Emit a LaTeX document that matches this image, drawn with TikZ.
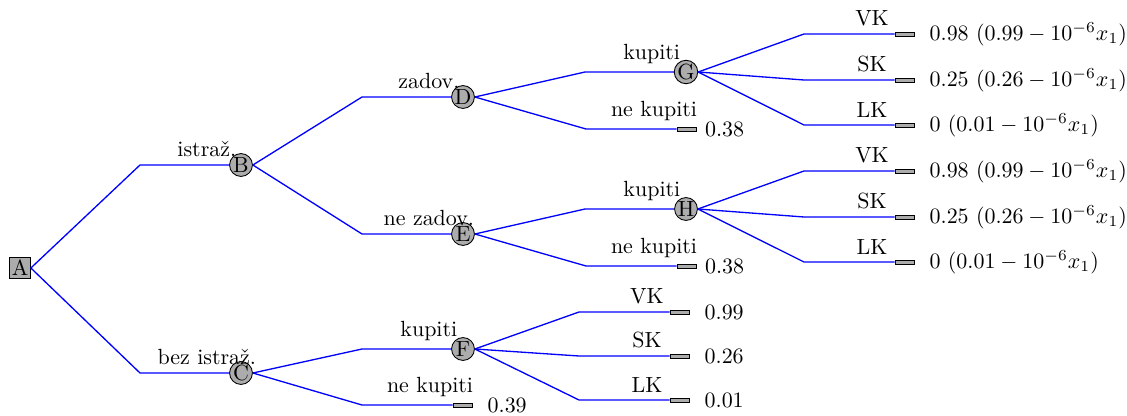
\documentclass[tikz,border=0pt]{standalone}
\usepackage{amsmath}
\usepackage{tikz}
\usetikzlibrary{calc,positioning}

\begin{document}
\begin{tikzpicture}[
  x = 0.016cm, y = -0.016cm,
  node distance = 3pt,
  dec/.style = {rectangle, draw, fill=gray!65, inner sep=0.5pt,
                minimum size=9.5pt},
  chance/.style = {circle, draw, fill=gray!65, inner sep=0pt,
                   minimum size=10.4pt},
  leaf/.style = {rectangle, draw, fill=gray!65, inner sep=0pt,
                 minimum width=9pt, minimum height=1.8pt},
  branch/.style = {blue, line width=0.6pt},
  lab/.style = {above, pos=0.75, text=black}
]
\useasboundingbox (0,0) rectangle (1127,415);

% decision and chance nodes
\node[dec] (A) at (20,268) {A};
\node[chance] (B) at (241,165) {B};
\node[chance] (C) at (241,373) {C};
\node[chance] (D) at (463,97) {D};
\node[chance] (E) at (463,234) {E};
\node[chance] (F) at (463,349) {F};
\node[chance] (G) at (686,72) {G};
\node[chance] (H) at (686,209) {H};

% end points
\node[leaf] (tD) at (687,129) {};
\node[leaf] (tE) at (687,266) {};
\node[leaf] (tC) at (463,405) {};
\node[leaf] (tG1) at (905,34) {};
\node[leaf] (tG2) at (905,80) {};
\node[leaf] (tG3) at (905,125) {};
\node[leaf] (tH1) at (905,171) {};
\node[leaf] (tH2) at (905,217) {};
\node[leaf] (tH3) at (905,262) {};
\node[leaf] (tF1) at (680,312) {};
\node[leaf] (tF2) at (680,356) {};
\node[leaf] (tF3) at (680,400) {};

% payoffs
\node[right=0pt of tD] (pD) {0.38};
\node[right=0pt of tE] (pE) {0.38};
\node[right=3pt of tC] (pC) {0.39};
\node[right=3pt of tG1] (pG1) {0.98 $(0.99-10^{-6}x_1)$};
\node[right=3pt of tG2] (pG2) {0.25 $(0.26-10^{-6}x_1)$};
\node[right=3pt of tG3] (pG3) {0 $(0.01-10^{-6}x_1)$};
\node[right=3pt of tH1] (pH1) {0.98 $(0.99-10^{-6}x_1)$};
\node[right=3pt of tH2] (pH2) {0.25 $(0.26-10^{-6}x_1)$};
\node[right=3pt of tH3] (pH3) {0 $(0.01-10^{-6}x_1)$};
\node[right=3pt of tF1] (pF1) {0.99};
\node[right=3pt of tF2] (pF2) {0.26};
\node[right=3pt of tF3] (pF3) {0.01};

% branches
\foreach \src/\dst/\txt in {A/B/istraž., A/C/bez istraž.,
    B/D/zadov., B/E/ne zadov., C/F/kupiti, C/tC/ne kupiti,
    D/G/kupiti, D/tD/ne kupiti, E/H/kupiti, E/tE/ne kupiti,
    G/tG1/VK, G/tG2/SK, G/tG3/LK, H/tH1/VK, H/tH2/SK, H/tH3/LK,
    F/tF1/VK, F/tF2/SK, F/tF3/LK}
  \draw[branch] (\src.east) -- ($(\dst)+(-101,0)$)
    -- node[lab] {\txt} (\dst.west);
\end{tikzpicture}
\end{document}
